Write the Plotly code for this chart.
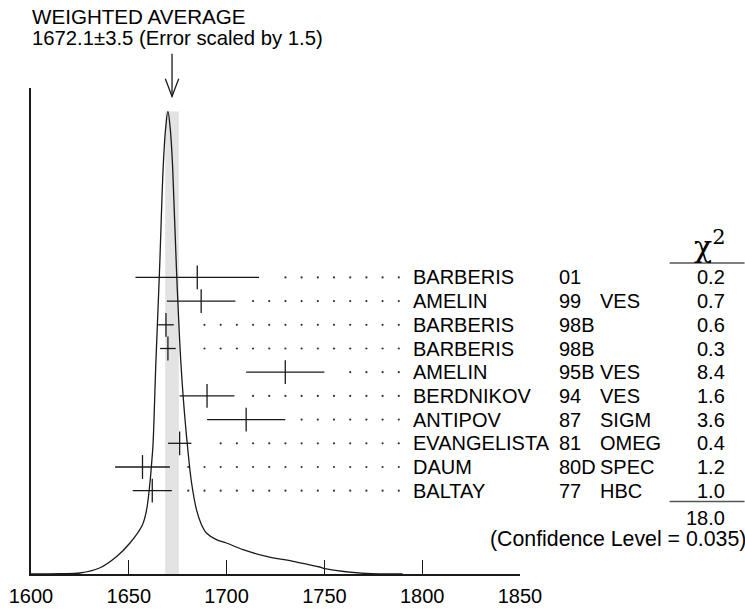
import plotly.graph_objects as go

# ---------------- data ----------------
authors = ["BARBERIS", "AMELIN", "BARBERIS", "BARBERIS", "AMELIN",
           "BERDNIKOV", "ANTIPOV", "EVANGELISTA", "DAUM", "BALTAY"]
years = ["01", "99", "98B", "98B", "95B", "94", "87", "81", "80D", "77"]
experiments = ["", "VES", "", "", "VES", "VES", "SIGM", "OMEG", "SPEC", "HBC"]
values = [1685, 1687, 1669, 1670, 1730, 1690, 1710, 1676, 1657, 1662]
errors = [31.6, 17.5, 4, 4, 20, 14, 20, 6, 14, 10]
chi2 = ["0.2", "0.7", "0.6", "0.3", "8.4", "1.6", "3.6", "0.4", "1.2", "1.0"]
chi2_total = "18.0"
conf_level = "(Confidence Level = 0.035)"
avg_value = 1672.1
avg_error = 3.5
title_1 = "WEIGHTED AVERAGE"
title_2 = "1672.1\u00b13.5 (Error scaled by 1.5)"

# ideogram curve (x, height in arbitrary units)
ideo_x = [1600, 1615, 1625, 1635, 1643.8, 1650.6, 1657.0, 1659.1, 1660.8, 1661.8,
          1662.4, 1663.8, 1665.7, 1667.6, 1668.8, 1670.0, 1671.2, 1672.4, 1674.4,
          1676.6, 1678.5, 1680.4, 1682.1, 1684.6, 1687.0, 1689.7, 1694.8, 1699.9,
          1708.4, 1720.4, 1734.0, 1747.6, 1750.2, 1760.0, 1771.5, 1790.0]
ideo_h = [0, 0.3, 1.0, 6, 17.6, 31, 49.3, 64.3, 91, 114,
          130, 209, 303, 407.6, 445, 462.6, 445, 407.6, 303,
          212, 160, 120, 91, 64.3, 50, 41, 34.3, 31,
          24.3, 17.6, 12.6, 7, 5.3, 2.5, 0.5, 0]

x_ticks = [1600, 1650, 1700, 1750, 1800, 1850]

# ---------------- geometry ----------------
W, H = 745, 609
L, R, T, B = 31, 224.7, 88.3, 34.7
plot_w = W - L - R
plot_h = H - T - B
x_min, x_max = 1600, 1850
px_per_unit = plot_w / (x_max - x_min)
row_top, row_step = 277.7, 23.7  # pixel positions of rows


def px_to_paper_x(px):
    return (px - L) / plot_w


def px_to_paper_y(py):
    return (H - B - py) / plot_h


y2_top = (T - row_top) / row_step
y2_bot = (H - B - row_top) / row_step
rows = list(range(len(authors)))

FONT = "Liberation Sans, Arial, Helvetica, sans-serif"
FS = 20
INK = "#1a1a1a"

fig = go.Figure()

# average band
fig.add_shape(type="rect", xref="x", yref="y",
              x0=avg_value - avg_error, x1=avg_value + avg_error,
              y0=0, y1=max(ideo_h), fillcolor="#e3e3e3", line_width=0,
              layer="below")

# ideogram
fig.add_trace(go.Scatter(x=ideo_x, y=ideo_h, mode="lines",
                         line=dict(color=INK, width=1.3), line_shape="spline",
                         hoverinfo="skip", showlegend=False))

# measurements
fig.add_trace(go.Scatter(
    x=values, y=rows, yaxis="y2", mode="markers",
    marker=dict(symbol="line-ns", size=17, line=dict(color=INK, width=1.3)),
    error_x=dict(type="data", array=errors, width=0, thickness=1.3, color=INK),
    showlegend=False, hoverinfo="skip"))

# dotted leaders on a common grid
dot_end = x_min + (399 - L) / px_per_unit
dot_step = 16.2 / px_per_unit
gap = 15 / px_per_unit
dx, dy = [], []
for i, (v, e) in enumerate(zip(values, errors)):
    hi = v + e + gap
    k = 0
    while dot_end - k * dot_step >= hi:
        dx.append(dot_end - k * dot_step)
        dy.append(i)
        k += 1
fig.add_trace(go.Scatter(x=dx, y=dy, yaxis="y2", mode="markers",
                         marker=dict(size=2.2, color="#333333"),
                         showlegend=False, hoverinfo="skip"))

ann = []
for i in rows:
    ann.append(dict(x=px_to_paper_x(411), y=i, xref="paper", yref="y2",
                    text=authors[i], xanchor="left", yanchor="middle",
                    showarrow=False))
    ann.append(dict(x=px_to_paper_x(557), y=i, xref="paper", yref="y2",
                    text=years[i], xanchor="left", yanchor="middle",
                    showarrow=False))
    if experiments[i]:
        ann.append(dict(x=px_to_paper_x(598), y=i, xref="paper", yref="y2",
                        text=experiments[i], xanchor="left", yanchor="middle",
                        showarrow=False))
    ann.append(dict(x=px_to_paper_x(727), y=i, xref="paper", yref="y2",
                    text=chi2[i], xanchor="right", yanchor="middle",
                    showarrow=False))

ann.append(dict(x=px_to_paper_x(727), y=px_to_paper_y(518.5), xref="paper", yref="paper",
                text=chi2_total, xanchor="right", yanchor="middle", showarrow=False))
ann.append(dict(x=px_to_paper_x(748), y=px_to_paper_y(539), xref="paper", yref="paper",
                text=conf_level, xanchor="right", yanchor="middle", showarrow=False,
                font=dict(size=21.3)))
ann.append(dict(x=px_to_paper_x(30), y=px_to_paper_y(16.7), xref="paper", yref="paper",
                text=title_1, xanchor="left", yanchor="middle", showarrow=False,
                font=dict(size=20.6)))
ann.append(dict(x=px_to_paper_x(30), y=px_to_paper_y(38.5), xref="paper", yref="paper",
                text=title_2, xanchor="left", yanchor="middle", showarrow=False,
                font=dict(size=20.3)))
ann.append(dict(x=px_to_paper_x(710), y=px_to_paper_y(245), xref="paper", yref="paper",
                text="\u03c7<sup>2</sup>", xanchor="center", yanchor="middle",
                showarrow=False, font=dict(family="DejaVu Serif, Liberation Serif, serif",
                                           size=30, color="black")))

# lines in the chi2 column
for py in (263.3, 501.7):
    fig.add_shape(type="line", xref="paper", yref="paper",
                  x0=px_to_paper_x(670), x1=px_to_paper_x(745),
                  y0=px_to_paper_y(py), y1=px_to_paper_y(py),
                  line=dict(color="#555555", width=1.5))

# arrow to the average
half = 6.7 / px_per_unit
fig.add_shape(type="line", xref="x", yref="paper", x0=avg_value, x1=avg_value,
              y0=px_to_paper_y(54), y1=px_to_paper_y(96.7),
              line=dict(color=INK, width=1.3))
fig.add_shape(type="path", xref="x", yref="paper",
              path=f"M {avg_value - half},{px_to_paper_y(79)} L {avg_value},{px_to_paper_y(96.7)} "
                   f"L {avg_value + half},{px_to_paper_y(79)}",
              line=dict(color=INK, width=1.3))

fig.update_layout(
    width=W, height=H, autosize=False,
    margin=dict(l=L, r=R, t=T, b=B, pad=0, autoexpand=False),
    paper_bgcolor="white", plot_bgcolor="white",
    font=dict(family=FONT, size=FS, color="black"),
    annotations=ann,
    xaxis=dict(range=[x_min, x_max], tickvals=x_ticks, ticks="inside", ticklen=14,
               tickwidth=1.3, tickcolor=INK, showline=True, linecolor=INK, linewidth=1.5,
               showgrid=False, zeroline=False, ticklabelstandoff=3, automargin=False,
               tickfont=dict(family=FONT, size=FS)),
    yaxis=dict(range=[0, plot_h], showline=True, linecolor=INK, linewidth=1.5,
               showgrid=False, zeroline=False, showticklabels=False, ticks="",
               automargin=False),
    yaxis2=dict(range=[y2_bot, y2_top], overlaying="y", visible=False),
)

fig.write_html("out.html", config={"displayModeBar": False},
               post_script="document.body.style.margin='0';document.body.style.padding='0';")
